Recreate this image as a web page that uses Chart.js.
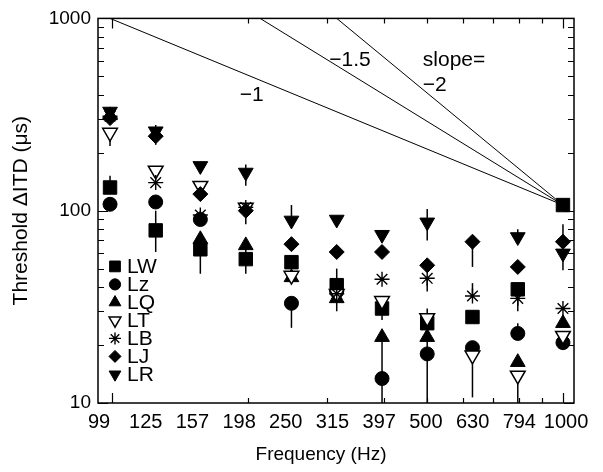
<!DOCTYPE html>
<html><head><meta charset="utf-8">
<script src="https://cdn.jsdelivr.net/npm/chart.js@4/dist/chart.umd.min.js"></script>
<style>html,body{margin:0;padding:0;background:#fff}#wrap{width:603px;height:472px;position:relative}</style>
</head><body><div id="wrap"><canvas id="c"></canvas></div>
<script>
// ---- data ----
const freqs = [99,125,157,198,250,315,397,500,630,794,1000];
const freqLabels = ['99','125','157','198','250','315','397','500','630','794','1000'];
const yTickValues = [10,100,1000];
const seriesNames = ['LW','Lz','LQ','LT','LB','LJ','LR'];

const LW = [132,79,63,56,54,41,31,26,28,39,107];
const Lz = [108,111,90,null,33,38,13.4,18,19.4,23,20.6];
const LQ = [313,null,71,66,45,35,22,22,null,16.3,26];
const LT = [255,162,135,104,46,37,34,27.7,17.7,13.9,22.4];
const LB = [310,140,95,104,null,37,44,44.5,36,35,31];
const LJ = [303,244,122,100,67,61,61,52,69,51,69];
const LR = [328,259,171,158,89,90,75,87,null,73,60];

// error bar ends (null = none visible)
const LW_lo = [null,61,47,47,null,30,27,null,null,null,null];
const LW_hi = [152,100,null,66,null,50,36,null,null,null,115];
const Lz_lo = [null,null,null,null,24.6,null,10,10,null,null,null];
const Lz_hi = [null,null,100,null,null,null,22,22,null,26,null];
const LT_lo = [217,null,null,null,null,null,null,null,10.7,10,null];
const LT_hi = [null,null,null,null,null,null,null,31,null,null,null];
const LB_lo = [null,null,null,null,null,null,null,38,null,30,null];
const LB_hi = [null,null,null,null,null,null,null,null,42,null,null];
const LJ_lo = [null,null,null,85,null,null,null,null,51,null,null];
const LJ_hi = [null,null,null,null,null,null,null,null,null,null,85];
const LR_lo = [null,220,158,135,null,null,null,70,null,null,49];
const LR_hi = [null,279,null,174,107,null,null,102,null,80,null];

// reference slope lines (log-log)
const slope1 = [[99,1000],[1000,107]];
const slope15 = [[213,1000],[1000,107]];
const slope2 = [[315,1000],[1000,107]];

// text annotations in data space
const notes = [
  {text:'\u22121', x:204, y:397, align:'center'},
  {text:'\u22121.5', x:337, y:608, align:'center'},
  {text:'slope=', x:489, y:608, align:'left'},
  {text:'\u22122', x:489, y:452, align:'left'}
];

// ---- styles ----
const styles = {
  LW:{pointStyle:'rect', radius:9.5, rotation:0, fill:'#000', bw:1},
  Lz:{pointStyle:'circle', radius:7, rotation:0, fill:'#000', bw:1},
  LQ:{pointStyle:'triangle', radius:8.5, rotation:0, fill:'#000', bw:1},
  LT:{pointStyle:'triangle', radius:8.5, rotation:180, fill:'#fff', bw:1.5},
  LB:{pointStyle:'star', radius:7.5, rotation:0, fill:'#000', bw:1.4},
  LJ:{pointStyle:'rectRot', radius:7.5, rotation:0, fill:'#000', bw:1},
  LR:{pointStyle:'triangle', radius:8.5, rotation:180, fill:'#000', bw:1}
};
const values = {LW,Lz,LQ,LT,LB,LJ,LR};
const errs = {LW:[LW_lo,LW_hi],Lz:[Lz_lo,Lz_hi],LT:[LT_lo,LT_hi],LB:[LB_lo,LB_hi],LJ:[LJ_lo,LJ_hi],LR:[LR_lo,LR_hi]};

const FONT = 'Liberation Sans, Arial, Helvetica, sans-serif';
const TXT = 21;

const datasets = [];
seriesNames.forEach((n,i)=>{
  const s = styles[n];
  datasets.push({
    label:n,
    data: freqs.map((f,k)=>({x:f,y:values[n][k]})),
    xAxisID:'x', yAxisID:'y',
    pointStyle:s.pointStyle, pointRadius:s.radius, pointRotation:s.rotation,
    pointBackgroundColor:s.fill, pointBorderColor:'#000', pointBorderWidth:s.bw,
    pointHoverRadius:s.radius,
    showLine:false,
    order: 20 - i
  });
});
[slope1,slope15,slope2].forEach((ln,i)=>{
  datasets.push({
    label:'slope'+i, type:'line',
    data: ln.map(p=>({x:p[0],y:p[1]})),
    xAxisID:'x', yAxisID:'y',
    borderColor:'#000', borderWidth:1, pointRadius:0, showLine:true, fill:false,
    order: 50
  });
});

const frame = {
  id:'frame',
  beforeDatasetsDraw(chart){
    const ctx = chart.ctx, xs = chart.scales.x, ys = chart.scales.y;
    ctx.save();
    ctx.strokeStyle = '#000'; ctx.lineWidth = 1.5;
    Object.keys(errs).forEach(n=>{
      const [lo,hi] = errs[n];
      freqs.forEach((f,k)=>{
        const v = values[n][k];
        if (v==null) return;
        const a = lo[k]!=null ? lo[k] : v, b = hi[k]!=null ? hi[k] : v;
        if (a===v && b===v) return;
        const px = xs.getPixelForValue(f);
        ctx.beginPath();
        ctx.moveTo(px, ys.getPixelForValue(a));
        ctx.lineTo(px, ys.getPixelForValue(b));
        ctx.stroke();
      });
    });
    ctx.restore();
  },
  afterDraw(chart){
    const ctx = chart.ctx, a = chart.chartArea, xs = chart.scales.x, ys = chart.scales.y;
    ctx.save();
    ctx.strokeStyle = '#000';
    ctx.lineWidth = 1.2;
    for (let v=100; v<=1000; v+=100){
      const px = Math.round(xs.getPixelForValue(v))+0.5;
      const L = (v===100||v===1000) ? 10 : 5;
      ctx.beginPath();
      ctx.moveTo(px,a.bottom); ctx.lineTo(px,a.bottom-L);
      ctx.moveTo(px,a.top); ctx.lineTo(px,a.top+L);
      ctx.stroke();
    }
    [10,100].forEach(dec=>{
      for (let m=1;m<=10;m++){
        const v = dec*m;
        if (v>1000) continue;
        const py = Math.round(ys.getPixelForValue(v))+0.5;
        const L = (m===1||m===10) ? 10 : 6;
        ctx.beginPath();
        ctx.moveTo(a.left,py); ctx.lineTo(a.left+L,py);
        ctx.moveTo(a.right,py); ctx.lineTo(a.right-L,py);
        ctx.stroke();
      }
    });
    ctx.lineWidth = 1.5;
    ctx.strokeRect(a.left, a.top, a.right-a.left, a.bottom-a.top);
    ctx.fillStyle = '#000';
    ctx.font = TXT + 'px ' + FONT;
    ctx.textBaseline = 'middle';
    notes.forEach(nt=>{
      ctx.textAlign = nt.align;
      ctx.fillText(nt.text, xs.getPixelForValue(nt.x), ys.getPixelForValue(nt.y));
    });
    // legend
    const lx = a.left + 17, ly0 = a.top + 248, step = 18;
    seriesNames.forEach((n,i)=>{
      const s = styles[n];
      const y = ly0 + i*step;
      ctx.fillStyle = s.fill; ctx.strokeStyle = '#000'; ctx.lineWidth = s.bw;
      Chart.helpers.drawPoint(ctx, {pointStyle:s.pointStyle, rotation:s.rotation, radius:s.radius*0.8, borderWidth:s.bw}, lx, y);
      ctx.fillStyle = '#000';
      ctx.textAlign = 'left';
      ctx.fillText(n, lx + 12, y + 1);
    });
    // x-axis title
    ctx.font = '19px ' + FONT;
    ctx.textAlign = 'center';
    ctx.fillText('Frequency (Hz)', (a.left + a.right)/2 - 15, 455);
    ctx.restore();
  }
};

new Chart(document.getElementById('c'), {
  type:'scatter',
  data:{datasets},
  options:{
    responsive:true, maintainAspectRatio:false, animation:false,
    layout:{padding:{left:0,right:29,top:14,bottom:0}},
    plugins:{legend:{display:false}, tooltip:{enabled:false}},
    scales:{
      x:{type:'logarithmic', min:93.1, max:1058, display:false},
      xl:{type:'linear', position:'bottom', min:-0.0214, max:10.171,
        grid:{display:false, drawTicks:false}, border:{display:false},
        afterBuildTicks(sc){ sc.ticks = freqLabels.map((l,i)=>({value:i})); },
        afterFit(sc){ sc.height = 69; },
        ticks:{color:'#000', font:{family:FONT, size:20}, padding:7, maxRotation:0, autoSkip:false,
          callback:(v)=>freqLabels[v]},
        title:{display:false}
      },
      y:{type:'logarithmic', min:10, max:1000,
        grid:{display:false, drawTicks:false}, border:{display:false},
        afterBuildTicks(sc){ sc.ticks = yTickValues.map(v=>({value:v})); },
        afterFit(sc){ sc.width = 98; },
        ticks:{color:'#000', font:{family:FONT, size:19}, padding:7, autoSkip:false,
          callback:(v)=>String(v)},
        title:{display:true, text:'Threshold \u0394ITD (\u03bcs)', color:'#000', font:{family:FONT,size:21}, padding:{top:9,bottom:0}}
      }
    }
  },
  plugins:[frame]
});
</script></body></html>
